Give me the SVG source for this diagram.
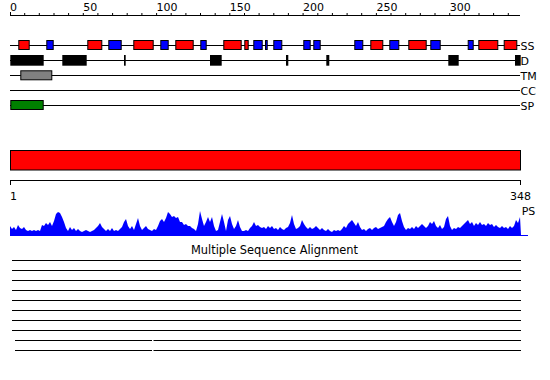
<svg xmlns="http://www.w3.org/2000/svg" width="550" height="380" viewBox="0 0 550 380">
<style>
text{font-family:"DejaVu Sans",Verdana,sans-serif;font-size:11px;fill:#000}
.ln{stroke:#000;stroke-width:1;fill:none}
.r{fill:#f00;stroke:#000;stroke-width:1}
.b{fill:#00f;stroke:#000;stroke-width:1}
.k{fill:#000}
</style>
<rect width="550" height="380" fill="#fff"/>
<g id="top-axis">
<path class="ln" d="M10 15.5H520M10.5 12V16M24.7 13V16M39.3 13V16M54 13V16M68.6 13V16M83.3 13V16M97.9 13V16M112.6 13V16M127.2 13V16M141.9 13V16M156.6 13V16M171.2 13V16M185.9 13V16M200.5 13V16M215.2 13V16M229.8 13V16M244.5 13V16M259.1 13V16M273.8 13V16M288.4 13V16M303.1 13V16M317.8 13V16M332.4 13V16M347.1 13V16M361.7 13V16M376.4 13V16M391 13V16M405.7 13V16M420.3 13V16M435 13V16M449.7 13V16M464.3 13V16M479 13V16M493.6 13V16M508.3 13V16"/>
<text x="10" y="10.5">0</text><text x="83.3" y="10.5">50</text><text x="156.6" y="10.5">100</text><text x="229.8" y="10.5">150</text><text x="303.1" y="10.5">200</text><text x="376.4" y="10.5">250</text><text x="449.7" y="10.5">300</text>
</g>
<g id="track-lines">
<path class="ln" d="M10 45.5H520M10 60.5H520M10 75.5H520M10 90.5H520M10 105.5H520"/>
</g>
<g id="SS">
<rect class="r" x="18.8" y="40.5" width="10.4" height="9"/>
<rect class="b" x="46.8" y="40.5" width="6.4" height="9"/>
<rect class="r" x="87.8" y="40.5" width="14" height="9"/>
<rect class="b" x="108.8" y="40.5" width="12.4" height="9"/>
<rect class="r" x="133.8" y="40.5" width="19.4" height="9"/>
<rect class="b" x="160.8" y="40.5" width="7.4" height="9"/>
<rect class="r" x="175.8" y="40.5" width="17.4" height="9"/>
<rect class="b" x="200.8" y="40.5" width="5.4" height="9"/>
<rect class="r" x="223.8" y="40.5" width="17.4" height="9"/>
<rect class="r" x="244.8" y="40.5" width="3.4" height="9"/>
<rect class="b" x="253.8" y="40.5" width="8.4" height="9"/>
<rect class="b" x="265.5" y="40.5" width="1.7" height="9"/>
<rect class="b" x="273.8" y="40.5" width="8" height="9"/>
<rect class="b" x="303.8" y="40.5" width="6.4" height="9"/>
<rect class="b" x="313.8" y="40.5" width="6.4" height="9"/>
<rect class="b" x="354.8" y="40.5" width="8" height="9"/>
<rect class="r" x="370.8" y="40.5" width="12" height="9"/>
<rect class="b" x="389.8" y="40.5" width="9" height="9"/>
<rect class="r" x="408.8" y="40.5" width="17.4" height="9"/>
<rect class="b" x="430.8" y="40.5" width="9.4" height="9"/>
<rect class="b" x="468.2" y="40.5" width="5" height="9"/>
<rect class="r" x="478.8" y="40.5" width="19" height="9"/>
<rect class="r" x="504.2" y="40.5" width="12.6" height="9"/>
<text x="520.5" y="49.5">SS</text>
</g>
<g id="D">
<rect class="k" x="10.3" y="55" width="33.4" height="10.7"/>
<rect class="k" x="62.3" y="55" width="24.4" height="10.7"/>
<rect class="k" x="124" y="55" width="1.7" height="10.7"/>
<rect class="k" x="210" y="55" width="11.7" height="10.7"/>
<rect class="k" x="286" y="55" width="2.3" height="10.7"/>
<rect class="k" x="326.3" y="55" width="3" height="10.7"/>
<rect class="k" x="448.3" y="55" width="10.4" height="10.7"/>
<rect class="k" x="515" y="55" width="5.7" height="10.7"/>
<text x="520.5" y="65">D</text>
</g>
<g id="TM">
<rect x="20.8" y="70.8" width="31" height="9" fill="#808080" stroke="#000"/>
<text x="520.5" y="80">TM</text>
</g>
<g id="CC">
<text x="520.5" y="95">CC</text>
</g>
<g id="SP">
<rect x="10.8" y="100.5" width="32.4" height="9" fill="#008000" stroke="#000"/>
<text x="520.5" y="110">SP</text>
</g>
<g id="domain-bar">
<rect x="10.5" y="150.5" width="510" height="19.5" fill="#f00" stroke="#000"/>
</g>
<g id="bottom-axis">
<path class="ln" d="M10 180.5H521M10.5 180V185M520.5 180V185"/>
<text x="10" y="200">1</text>
<text x="510" y="200">348</text>
</g>
<g id="PS">
<polygon fill="#00f" points="10,235 10,226 12,229 14,227 16,230 18,225 20,228 22,229 24,227 26,230 28,231 30,230 32,231 34,230 36,231 38,230 40,231 42,225 44,226 46,223 48,225 50,222 52,226 54,221 56,214 58,212 60,213 62,217 64,222 66,228 68,231 70,227 72,230 74,228 76,231 78,229 80,231 82,232 84,231 86,230 88,231 90,232 92,231 94,230 96,228 98,226 100,223 102,227 104,229 106,231 108,229 110,231 112,228 114,231 116,230 118,231 120,229 122,227 124,222 126,219 128,226 130,229 132,226 134,230 136,224 138,218 140,226 142,230 144,228 146,226 148,229 150,230 152,231 154,229 156,230 158,226 160,221 162,219 164,222 166,218 168,212 170,214 172,217 174,216 176,218 178,217 180,222 182,222 184,225 186,224 188,226 190,226 192,228 194,229 196,231 198,224 200,211 202,219 204,226 206,222 208,217 210,222 212,217 214,226 216,231 218,230 220,222 222,214 224,222 226,231 228,220 230,216 232,224 234,229 236,226 238,220 240,227 242,231 244,231 246,230 248,231 250,228 252,226 254,222 256,226 258,225 260,227 262,228 264,227 266,229 268,226 270,228 272,226 274,229 276,228 278,230 280,227 282,229 284,230 286,228 288,227 290,223 292,215 294,224 296,229 298,228 300,226 302,220 304,224 306,227 308,229 310,227 312,229 314,228 316,226 318,228 320,230 322,228 324,230 326,231 328,229 330,231 332,232 334,230 336,231 338,230 340,231 342,229 344,226 346,228 348,224 350,222 352,220 354,223 356,226 358,222 360,227 362,230 364,229 366,231 368,229 370,228 372,230 374,228 376,227 378,229 380,228 382,227 384,226 386,222 388,219 390,217 392,222 394,226 396,222 398,215 400,213 402,221 404,227 406,230 408,228 410,229 412,227 414,229 416,226 418,228 420,226 422,224 424,226 426,228 428,226 430,222 432,224 434,221 436,226 438,228 440,225 442,229 444,227 446,219 448,216 450,226 452,230 454,228 456,229 458,227 460,228 462,226 464,224 466,222 468,220 470,224 472,222 474,226 476,223 478,225 480,222 482,225 484,224 486,226 488,223 490,225 492,224 494,227 496,225 498,227 500,228 502,226 504,228 506,227 508,229 510,226 512,228 514,226 516,220 518,223 520,217 521,235"/>
<path d="M10 235.5H528" stroke="#00f" stroke-width="1"/>
<text x="521.7" y="215">PS</text>
</g>
<g id="MSA">
<text x="274.5" y="253.5" text-anchor="middle" style="font-size:11.4px">Multiple Sequence Alignment</text>
<path class="ln" d="M12 260.5H521M12 270.5H521M12 280.5H521M12 290.5H521M12 300.5H521M12 310.5H521M12 320.5H521M12 330.5H521M15 340.5H152M153.5 340.5H521M15 350.5H152M153.5 350.5H521"/>
</g>
</svg>
